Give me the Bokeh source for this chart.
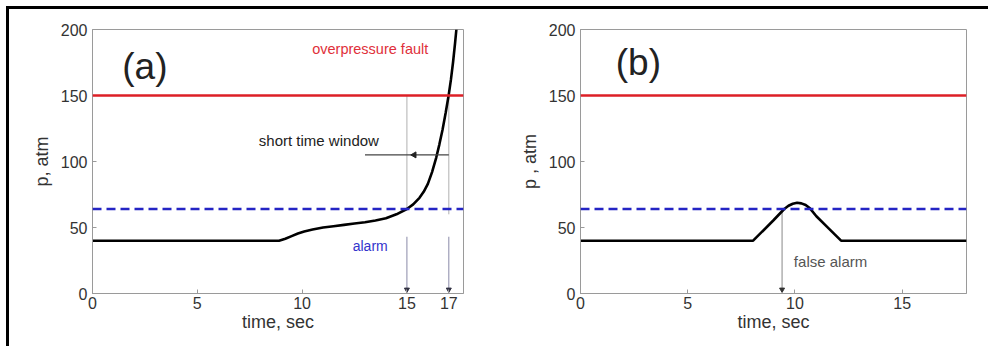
from bokeh.plotting import figure
from bokeh.layouts import row
from bokeh.models import Range1d, Span, FixedTicker, Label
from bokeh.embed import file_html
from bokeh.resources import INLINE
import math

# ---- data ----
fault_level = 150
alarm_level = 64

t_a = [0, 8.9, 9.2, 9.5, 9.8, 10.1, 10.5, 11.0, 11.5, 12.0, 12.5, 13.0, 13.5, 14.0, 14.5,
       15.0, 15.3, 15.6, 15.8, 16.0, 16.2, 16.4, 16.55, 16.7, 16.85, 17.0, 17.1, 17.2, 17.3, 17.36]
p_a = [40, 40, 41.5, 43.5, 45.5, 47, 48.5, 50, 51, 52, 53, 54, 55.3, 57, 60,
       64, 67.5, 72.5, 77, 83, 92, 103, 113, 124, 137, 151, 162, 175, 190, 200]

t_b = [0, 8.05, 9.0, 9.5, 9.7, 9.9, 10.1, 10.3, 10.5, 10.7, 11.0, 11.5, 12.15, 18]
p_b = [40, 40, 55.5, 64, 66.5, 68, 68.7, 68.3, 67, 64.5, 58.5, 50.5, 40, 40]

xticks_a = [0, 5, 10, 15, 17]
xticks_b = [0, 5, 10, 15]
yticks = [0, 50, 100, 150, 200]

alarm_time = 15
fault_time = 17
false_alarm_time = 9.4
window_y = 105
window_x0 = 13.0

FONT = "Liberation Sans"
GRAY = "#9a9a9a"
TXT = "#333333"


def make_fig(width, xmax, xticks, ml, mr, mt, mb, ylabel):
    p = figure(width=width, height=337, x_range=Range1d(0, xmax), y_range=Range1d(0, 200),
               output_backend="svg", toolbar_location=None,
               min_border_left=ml, min_border_right=mr, min_border_top=mt, min_border_bottom=mb)
    p.grid.visible = False
    p.outline_line_color = GRAY
    p.background_fill_color = "white"
    p.border_fill_color = "white"
    p.xaxis.ticker = FixedTicker(ticks=xticks)
    p.yaxis.ticker = FixedTicker(ticks=yticks)
    for ax in (p.xaxis[0], p.yaxis[0]):
        ax.axis_line_color = GRAY
        ax.major_tick_line_color = GRAY
        ax.major_tick_in = 4
        ax.major_tick_out = 0
        ax.minor_tick_line_color = None
        ax.major_label_text_font = FONT
        ax.major_label_text_font_size = "16px"
        ax.major_label_text_color = TXT
        ax.axis_label_text_font = FONT
        ax.axis_label_text_font_style = "normal"
        ax.axis_label_text_font_size = "18px"
        ax.axis_label_text_color = TXT
    p.xaxis[0].major_label_standoff = 3
    p.xaxis[0].axis_label_standoff = 0
    p.yaxis[0].major_label_standoff = 5
    p.yaxis[0].axis_label_standoff = 6
    p.xaxis[0].axis_label = "time, sec"
    p.yaxis[0].axis_label = ylabel
    p.add_layout(Span(location=fault_level, dimension="width", line_color="#dd1f26", line_width=2.5))
    p.add_layout(Span(location=alarm_level, dimension="width", line_color="#2424c4",
                      line_width=2.5, line_dash="9 5"))
    return p


# ---- panel (a) ----
pa = make_fig(485, 17.7, xticks_a, 83, 31, 20, 53, "p, atm")
pa.segment(x0=[alarm_time, fault_time], y0=[fault_level, fault_level],
           x1=[alarm_time, fault_time], y1=[alarm_level, 60], line_color="#b0b0b0", line_width=1)
pa.segment(x0=[alarm_time, fault_time], y0=[43, 43], x1=[alarm_time, fault_time], y1=[2, 2],
           line_color="#8a8aa8", line_width=1)
pa.scatter(x=[alarm_time, fault_time], y=[3, 3], marker="triangle", angle=math.pi, size=5,
           fill_color="#333344", line_color="#333344")
pa.line(t_a, p_a, line_color="black", line_width=2.6)
pa.segment(x0=[window_x0], y0=[window_y], x1=[fault_time], y1=[window_y], line_color="#444444", line_width=1.2)
pa.scatter(x=[alarm_time + 0.35], y=[window_y], marker="triangle", angle=math.pi / 2, size=6,
           fill_color="#222222", line_color="#222222")
pa.add_layout(Label(x=13.25, y=185, text="overpressure fault", text_align="center", text_baseline="middle",
                    text_color="#e0303a", text_font=FONT, text_font_size="14.5px"))
pa.add_layout(Label(x=10.8, y=116, text="short time window", text_align="center", text_baseline="middle",
                    text_color="#222222", text_font=FONT, text_font_size="15px"))
pa.add_layout(Label(x=13.25, y=36, text="alarm", text_align="center", text_baseline="middle",
                    text_color="#3333cc", text_font=FONT, text_font_size="14px"))
pa.add_layout(Label(x=2.5, y=172, text="(a)", text_align="center", text_baseline="middle",
                    text_color="#222222", text_font=FONT, text_font_size="37px"))

# ---- panel (b) ----
pb = make_fig(494, 18, xticks_b, 86, 22, 18, 53, "p , atm")
pb.segment(x0=[false_alarm_time], y0=[alarm_level], x1=[false_alarm_time], y1=[2],
           line_color="#888888", line_width=1)
pb.scatter(x=[false_alarm_time], y=[3], marker="triangle", angle=math.pi, size=5,
           fill_color="#333333", line_color="#333333")
pb.line(t_b, p_b, line_color="black", line_width=2.6)
pb.add_layout(Label(x=9.95, y=24, text="false alarm", text_align="left", text_baseline="middle",
                    text_color="#555555", text_font=FONT, text_font_size="15px"))
pb.add_layout(Label(x=2.7, y=175, text="(b)", text_align="center", text_baseline="middle",
                    text_color="#222222", text_font=FONT, text_font_size="37px"))

layout = row(pa, pb, styles={"margin-left": "6px", "margin-top": "6px",
                             "border-top": "3px solid black", "border-left": "3px solid black"})

open("out.html", "w").write(file_html(layout, INLINE))
